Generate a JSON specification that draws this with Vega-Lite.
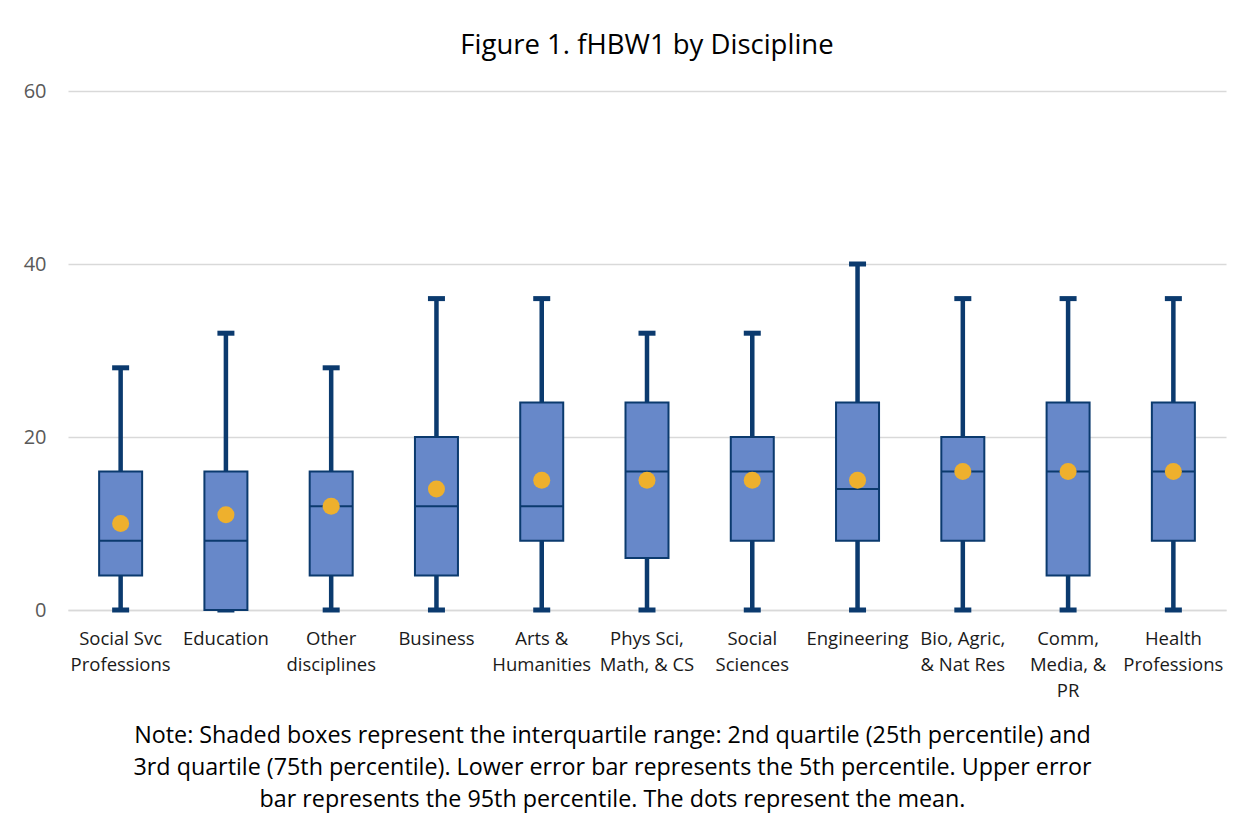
{
  "$schema": "https://vega.github.io/schema/vega-lite/v6.json",
  "width": 1158,
  "height": 519,
  "autosize": "none",
  "padding": {"left": 68, "top": 91, "right": 27, "bottom": 214},
  "background": "white",
  "config": {"view": {"stroke": null}, "font": "Open Sans"},
  "title": {
    "text": "Figure 1. fHBW1 by Discipline",
    "fontSize": 27.5,
    "fontWeight": "normal",
    "font": "Open Sans",
    "color": "#000000",
    "anchor": "middle",
    "offset": 22
  },
  "data": {
    "values": [
      {"cat": "Social Svc|Professions", "p5": 0, "q1": 4, "median": 8, "q3": 16, "p95": 28, "mean": 10},
      {"cat": "Education", "p5": 0, "q1": 0, "median": 8, "q3": 16, "p95": 32, "mean": 11},
      {"cat": "Other|disciplines", "p5": 0, "q1": 4, "median": 12, "q3": 16, "p95": 28, "mean": 12},
      {"cat": "Business", "p5": 0, "q1": 4, "median": 12, "q3": 20, "p95": 36, "mean": 14},
      {"cat": "Arts &|Humanities", "p5": 0, "q1": 8, "median": 12, "q3": 24, "p95": 36, "mean": 15},
      {"cat": "Phys Sci,|Math, & CS", "p5": 0, "q1": 6, "median": 16, "q3": 24, "p95": 32, "mean": 15},
      {"cat": "Social|Sciences", "p5": 0, "q1": 8, "median": 16, "q3": 20, "p95": 32, "mean": 15},
      {"cat": "Engineering", "p5": 0, "q1": 8, "median": 14, "q3": 24, "p95": 40, "mean": 15},
      {"cat": "Bio, Agric,|& Nat Res", "p5": 0, "q1": 8, "median": 16, "q3": 20, "p95": 36, "mean": 16},
      {"cat": "Comm,|Media, &|PR", "p5": 0, "q1": 4, "median": 16, "q3": 24, "p95": 36, "mean": 16},
      {"cat": "Health|Professions", "p5": 0, "q1": 8, "median": 16, "q3": 24, "p95": 36, "mean": 16}
    ]
  },
  "encoding": {
    "x": {
      "field": "cat",
      "type": "nominal",
      "sort": null,
      "scale": {"paddingInner": 0, "paddingOuter": 0},
      "axis": {
        "labelExpr": "split(datum.label, '|')",
        "labelAngle": 0,
        "labelFontSize": 18.5,
        "labelColor": "#1a1a1a",
        "labelLineHeight": 26,
        "labelPadding": 28,
        "labelBaseline": "middle",
        "ticks": false,
        "domain": true,
        "domainColor": "#d9d9d9",
        "domainWidth": 1.5,
        "title": [
          "Note: Shaded boxes represent the interquartile range: 2nd quartile (25th percentile) and",
          "3rd quartile (75th percentile). Lower error bar represents the 5th percentile. Upper error",
          "bar represents the 95th percentile. The dots represent the mean."
        ],
        "titleFontSize": 23.3,
        "titleFontWeight": "normal",
        "titleColor": "#000000",
        "titleLineHeight": 32,
        "titleAlign": "center",
        "titleBaseline": "middle",
        "titleX": 544,
        "titleY": 125
      }
    }
  },
  "layer": [
    {
      "mark": {"type": "rule", "color": "#0b3a6e", "strokeWidth": 4.5},
      "encoding": {
        "y": {
          "field": "p5",
          "type": "quantitative",
          "scale": {"domain": [0, 60], "nice": false},
          "axis": {
            "values": [0, 20, 40, 60],
            "title": null,
            "domain": false,
            "ticks": false,
            "labelFontSize": 20,
            "labelColor": "#595959",
            "labelPadding": 22,
            "gridColor": "#d9d9d9",
            "gridWidth": 1.5
          }
        },
        "y2": {"field": "q1"}
      }
    },
    {
      "mark": {"type": "rule", "color": "#0b3a6e", "strokeWidth": 4.5},
      "encoding": {
        "y": {"field": "q3", "type": "quantitative"},
        "y2": {"field": "p95"}
      }
    },
    {
      "mark": {"type": "tick", "color": "#0b3a6e", "size": 17, "thickness": 5, "orient": "horizontal", "opacity": 1},
      "encoding": {"y": {"field": "p5", "type": "quantitative"}}
    },
    {
      "mark": {"type": "tick", "color": "#0b3a6e", "size": 17, "thickness": 5, "orient": "horizontal", "opacity": 1},
      "encoding": {"y": {"field": "p95", "type": "quantitative"}}
    },
    {
      "mark": {"type": "bar", "fill": "#6788c9", "stroke": "#0b3a6e", "strokeWidth": 2, "width": 43, "opacity": 1},
      "encoding": {
        "y": {"field": "q1", "type": "quantitative"},
        "y2": {"field": "q3"}
      }
    },
    {
      "mark": {"type": "tick", "color": "#0b3a6e", "size": 43, "thickness": 2, "orient": "horizontal", "opacity": 1},
      "encoding": {"y": {"field": "median", "type": "quantitative"}}
    },
    {
      "mark": {"type": "point", "filled": true, "shape": "circle", "size": 290, "color": "#eeb02d", "opacity": 1},
      "encoding": {"y": {"field": "mean", "type": "quantitative"}}
    }
  ]
}
